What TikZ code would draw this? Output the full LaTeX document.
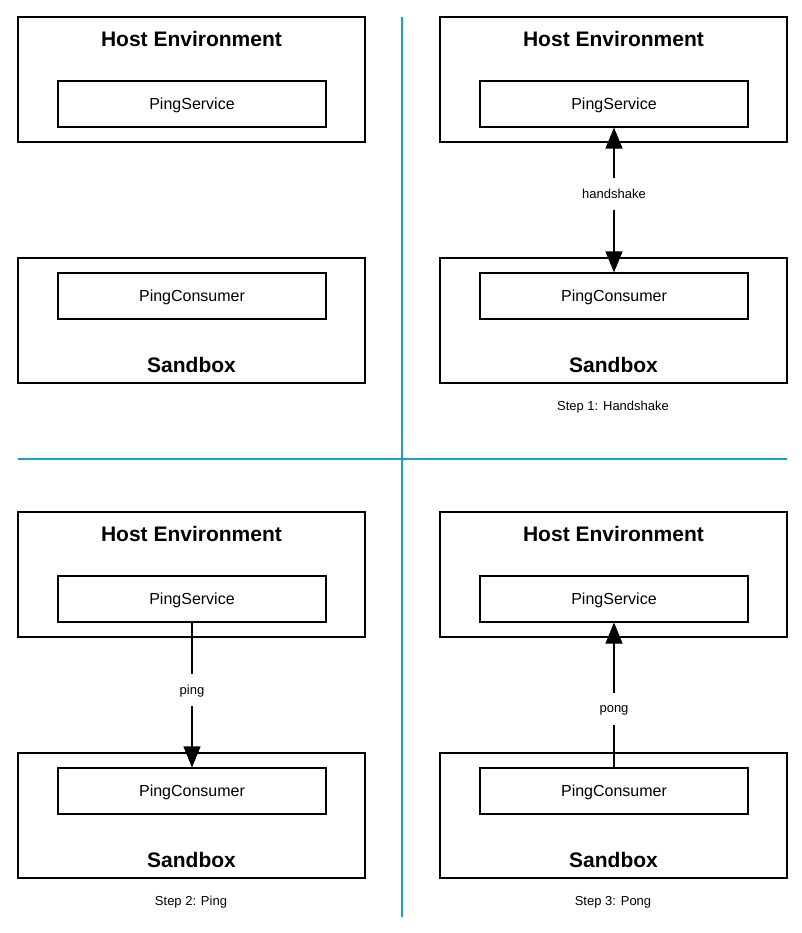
\documentclass[tikz,border=0pt]{standalone}
\usepackage{fontspec}
\setmainfont{Liberation Sans}
\usetikzlibrary{arrows.meta}
\definecolor{divider}{RGB}{20,163,195}
\tikzset{
  outerbox/.style={draw=black, line width=1.1pt, minimum width=347pt, minimum height=125pt, inner sep=0pt},
  innerbox/.style={draw=black, line width=1.1pt, minimum width=268pt, minimum height=46pt, inner sep=0pt, text depth=0pt, font=\fontsize{16}{19}\selectfont},
  titletext/.style={font=\fontsize{21}{25}\selectfont\bfseries, inner sep=0pt},
  lbl/.style={font=\fontsize{13}{15}\selectfont, fill=white, inner sep=0pt, text depth=0pt, minimum height=32pt},
  caption/.style={font=\fontsize{13}{15}\selectfont, inner sep=0pt, text depth=0pt},
  arr/.style={line width=1.1pt, -{Triangle[width=17pt,length=21pt]}},
  dbl/.style={line width=1.1pt, {Triangle[width=17pt,length=21pt]}-{Triangle[width=17pt,length=21pt]}},
  sep/.style={draw=divider, line width=1.3pt}
}
\begin{document}
\begin{tikzpicture}[x=1pt,y=-1pt]
\fill[white] (0,0) rectangle (802,933);
\useasboundingbox (0,0) rectangle (802,933);
% dividers
\coordinate (vt) at (402,17);
\coordinate (vb) at (402,917);
\coordinate (hl) at (18,459);
\coordinate (hr) at (787,459);
\draw[sep] (vt) -- (vb);
\draw[sep] (hl) -- (hr);
% Panel 1 (top left)
\node[outerbox] (h1) at (191.5,79.5) {};
\node[titletext] (t1) at (191.5,38.5) {Host Environment};
\node[innerbox] (ps1) at (192,104) {PingService};
\node[outerbox] (s1) at (191.5,320.5) {};
\node[innerbox] (pc1) at (192,296) {PingConsumer};
\node[titletext] (sb1) at (191.5,364.5) {Sandbox};
% Panel 2 (top right)
\node[outerbox] (h2) at (613.5,79.5) {};
\node[titletext] (t2) at (613.5,38.5) {Host Environment};
\node[innerbox] (ps2) at (614,104) {PingService};
\node[outerbox] (s2) at (613.5,320.5) {};
\node[innerbox] (pc2) at (614,296) {PingConsumer};
\node[titletext] (sb2) at (613.5,364.5) {Sandbox};
\node[caption] (c2) at (613,406) {Step 1: Handshake};
\draw[dbl] (ps2.south) -- node[lbl, pos=0.46] (l2) {handshake} (pc2.north);
% Panel 3 (bottom left)
\node[outerbox] (h3) at (191.5,574.5) {};
\node[titletext] (t3) at (191.5,533.5) {Host Environment};
\node[innerbox] (ps3) at (192,599) {PingService};
\node[outerbox] (s3) at (191.5,815.5) {};
\node[innerbox] (pc3) at (192,791) {PingConsumer};
\node[titletext] (sb3) at (191.5,859.5) {Sandbox};
\node[caption] (c3) at (191,901) {Step 2: Ping};
\draw[arr] (ps3.south) -- node[lbl, pos=0.466] (l3) {ping} (pc3.north);
% Panel 4 (bottom right)
\node[outerbox] (h4) at (613.5,574.5) {};
\node[titletext] (t4) at (613.5,533.5) {Host Environment};
\node[innerbox] (ps4) at (614,599) {PingService};
\node[outerbox] (s4) at (613.5,815.5) {};
\node[innerbox] (pc4) at (614,791) {PingConsumer};
\node[titletext] (sb4) at (613.5,859.5) {Sandbox};
\node[caption] (c4) at (613,901) {Step 3: Pong};
\draw[arr] (pc4.north) -- node[lbl, pos=0.4] (l4) {pong} (ps4.south);
\end{tikzpicture}
\end{document}
